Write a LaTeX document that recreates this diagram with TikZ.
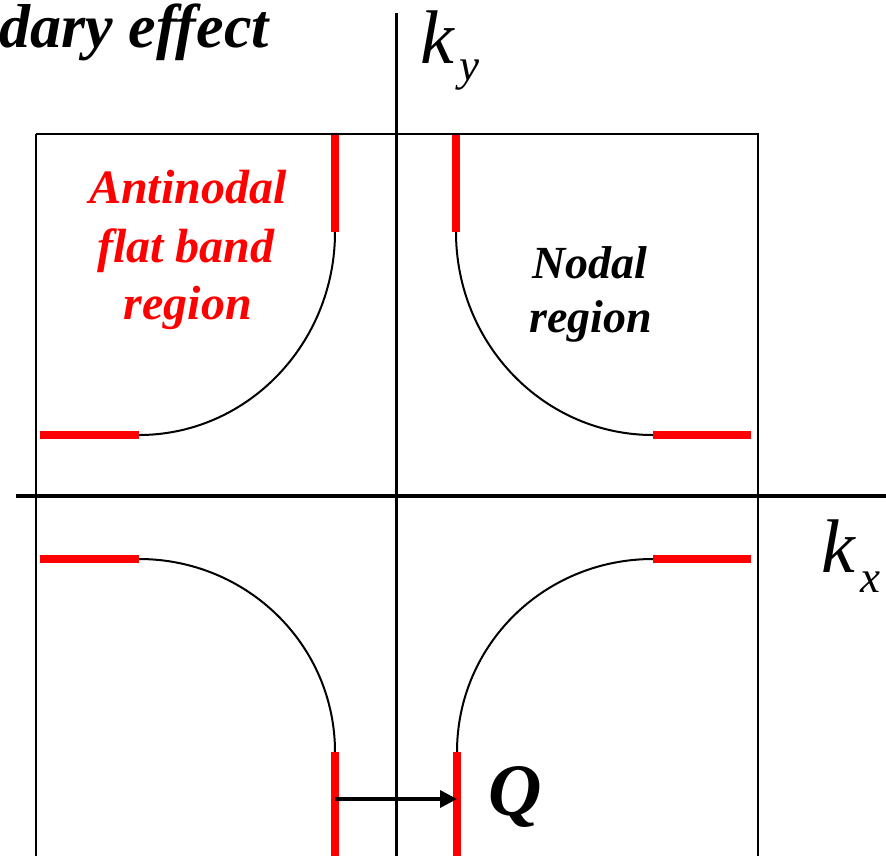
\documentclass[tikz,border=0pt]{standalone}
\usepackage{fontspec}
\setmainfont{Liberation Serif}
\usetikzlibrary{arrows.meta}
\definecolor{fsred}{RGB}{255,0,0}
\tikzset{
  frame/.style={draw=black, line width=2.8pt},
  axis/.style={draw=black, line width=3pt},
  fermi/.style={draw=black, line width=2pt},
  flat/.style={draw=fsred, line width=8pt, line cap=butt},
  qarrow/.style={draw=black, line width=3.5pt, -{Triangle[length=17pt,width=17pt]}},
  redlbl/.style={text=fsred, inner sep=0pt, font=\fontsize{48}{57}\selectfont\bfseries\itshape},
  blklbl/.style={text=black, inner sep=0pt, font=\fontsize{46}{54}\selectfont\bfseries\itshape},
  klbl/.style={inner sep=0pt, font=\fontsize{76}{80}\selectfont\itshape},
  sublbl/.style={inner sep=0pt, font=\fontsize{45}{50}\selectfont\itshape}
}
\begin{document}
\begin{tikzpicture}[x=1pt,y=-1pt]
\useasboundingbox (0,0) rectangle (886,855);
% frame and axes
\draw[frame] (36,134) -- (758,134) -- (758,870);
\draw[frame] (36,134) -- (36,870);
\coordinate (ytop) at (396,13);
\coordinate (ybot) at (396,870);
\coordinate (xl) at (16,496);
\coordinate (xr) at (890,496);
\draw[axis] (ytop) -- (ybot);
\draw[axis,line width=4pt] (xl) -- (xr);
% coordinates of flat segments
\coordinate (tlv1) at (335,135); \coordinate (tlv2) at (335,232);
\coordinate (tlh1) at (40,435);  \coordinate (tlh2) at (139,435);
\coordinate (trv1) at (456,135); \coordinate (trv2) at (456,232);
\coordinate (trh1) at (751,435); \coordinate (trh2) at (653,435);
\coordinate (blh1) at (40,559);  \coordinate (blh2) at (139,559);
\coordinate (blv1) at (335,870); \coordinate (blv2) at (335,752);
\coordinate (brh1) at (751,559); \coordinate (brh2) at (653,559);
\coordinate (brv1) at (457,870); \coordinate (brv2) at (457,752);
% Fermi surface arcs
\draw[fermi] (tlv2) .. controls (335,344) and (247,435) .. (tlh2);
\draw[fermi] (trv2) .. controls (456,344) and (544,435) .. (trh2);
\draw[fermi] (blh2) .. controls (247,559) and (335,645) .. (blv2);
\draw[fermi] (brh2) .. controls (544,559) and (457,645) .. (brv2);
% flat red segments
\draw[flat] (tlv1) -- (tlv2);
\draw[flat] (tlh1) -- (tlh2);
\draw[flat] (trv1) -- (trv2);
\draw[flat] (trh1) -- (trh2);
\draw[flat] (blh1) -- (blh2);
\draw[flat] (blv1) -- (blv2);
\draw[flat] (brh1) -- (brh2);
\draw[flat] (brv1) -- (brv2);
% Q arrow
\coordinate (qs) at (335,799);
\coordinate (qe) at (457,799);
\draw[qarrow] (qs) -- (qe);
% labels
\node[inner sep=0pt, anchor=base east, font=\fontsize{62}{68}\selectfont\bfseries\itshape] (title) at (269,47) {dary effect};
\node[klbl, anchor=base west] (ky) at (420,63) {k};
\node[sublbl, anchor=base west] (kysub) at (459,80) {y};
\node[klbl, anchor=base west] (kx) at (821,572) {k};
\node[sublbl, anchor=base west] (kxsub) at (860,592) {x};
\node[redlbl, anchor=base] (an1) at (188,203) {Antinodal};
\node[redlbl, anchor=base] (an2) at (186,262) {flat band};
\node[redlbl, anchor=base] (an3) at (188,319) {region};
\node[blklbl, anchor=base] (nd1) at (590,278) {Nodal};
\node[blklbl, anchor=base] (nd2) at (591,332) {region};
\node[inner sep=0pt, anchor=base west, font=\fontsize{74}{80}\selectfont\bfseries\itshape] (q) at (488,815) {Q};
\end{tikzpicture}
\end{document}
